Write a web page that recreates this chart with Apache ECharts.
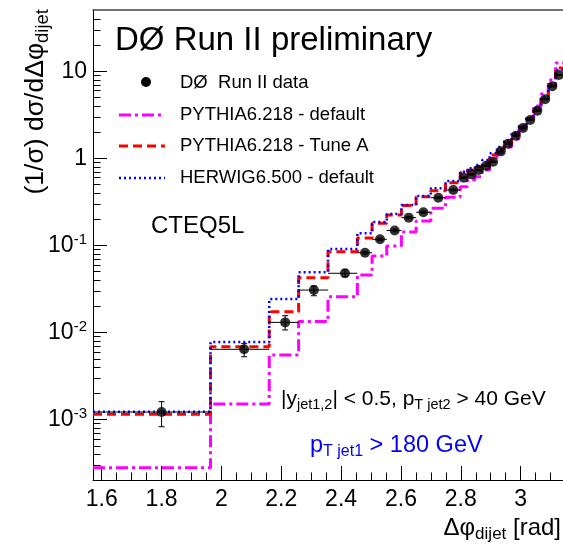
<!DOCTYPE html>
<html><head><meta charset="utf-8">
<script src="https://cdn.jsdelivr.net/npm/echarts@6/dist/echarts.min.js"></script>
<style>html,body{margin:0;padding:0;background:#fff}#c{width:563px;height:547px}</style>
</head><body><div id="c"></div>
<script>
// ---- data ----
const binEdges = [1.5708, 1.9635, 2.1598, 2.2580, 2.3562, 2.4544, 2.5035, 2.5525, 2.6016, 2.6507, 2.6998, 2.7489, 2.7980,
  2.8225, 2.8471, 2.8716, 2.8962, 2.9207, 2.9452, 2.9698, 2.9943, 3.0189, 3.0434, 3.0680, 3.0925, 3.1170, 3.1416];
const dataX = [1.800, 2.076, 2.213, 2.309, 2.413, 2.480, 2.530, 2.579, 2.626, 2.675, 2.725, 2.775,
  2.810, 2.836, 2.860, 2.885, 2.908, 2.934, 2.958, 2.984, 3.008, 3.032, 3.056, 3.082, 3.106, 3.128];
const dataY = [1.225e-3, 6.43e-3, 0.0131, 0.0308, 0.0480, 0.0826, 0.1178, 0.1486, 0.209, 0.241, 0.354, 0.434,
  0.600, 0.656, 0.736, 0.824, 0.916, 1.205, 1.475, 1.82, 2.23, 2.76, 3.53, 4.77, 6.73, 9.08];
const errLow = [0.395e-3, 1.15e-3, 0.00238, 0.0043, 0.0041, 0.003, 0.004, 0.005, 0.006, 0.007, 0.009, 0.010,
  0.012, 0.013, 0.014, 0.015, 0.016, 0.020, 0.024, 0.028, 0.033, 0.040, 0.050, 0.065, 0.090, 0.120];
const errHigh = [0.385e-3, 1.10e-3, 0.00253, 0.0035, 0.0044, 0.003, 0.004, 0.005, 0.006, 0.007, 0.009, 0.010,
  0.012, 0.013, 0.014, 0.015, 0.016, 0.020, 0.024, 0.028, 0.033, 0.040, 0.050, 0.065, 0.090, 0.120];
const pythiaDefault = [2.81e-4, 1.514e-3, 5.53e-3, 0.0134, 0.0258, 0.0458, 0.0757, 0.0986, 0.143, 0.191, 0.267, 0.357,
  0.473, 0.565, 0.617, 0.736, 0.959, 1.153, 1.352, 1.671, 2.18, 2.83, 4.00, 5.48, 7.94, 12.45];
const pythiaTuneA = [1.153e-3, 6.89e-3, 0.01738, 0.0427, 0.0849, 0.122, 0.180, 0.224, 0.288, 0.363, 0.426, 0.526,
  0.686, 0.736, 0.804, 0.893, 1.094, 1.282, 1.503, 1.857, 2.295, 2.83, 3.60, 4.81, 6.78, 10.9];
const herwig = [1.235e-3, 7.80e-3, 0.0243, 0.0492, 0.0912, 0.138, 0.186, 0.230, 0.292, 0.370, 0.454, 0.551,
  0.703, 0.769, 0.839, 0.959, 1.145, 1.352, 1.585, 1.958, 2.355, 2.91, 3.79, 5.07, 7.15, 10.35];
const xMajorTicks = [1.6, 1.8, 2.0, 2.2, 2.4, 2.6, 2.8, 3.0];
const xMinorTicks = [1.65, 1.7, 1.75, 1.85, 1.9, 1.95, 2.05, 2.1, 2.15, 2.25, 2.3, 2.35, 2.45, 2.5, 2.55,
  2.65, 2.7, 2.75, 2.85, 2.9, 2.95, 3.05, 3.1];
const yMajorTicks = [0.001, 0.01, 0.1, 1, 10];
const yMinorTicks = [3e-4, 4e-4, 5e-4, 6e-4, 7e-4, 8e-4, 9e-4, 2e-3, 3e-3, 4e-3, 5e-3, 6e-3, 7e-3, 8e-3, 9e-3,
  0.02, 0.03, 0.04, 0.05, 0.06, 0.07, 0.08, 0.09, 0.2, 0.3, 0.4, 0.5, 0.6, 0.7, 0.8, 0.9,
  2, 3, 4, 5, 6, 7, 8, 9, 20, 30, 40];
const legendLabels = ['DØ  Run II data', 'PYTHIA6.218 - default', 'PYTHIA6.218 - Tune A', 'HERWIG6.500 - default'];

// ---- chart ----
const FONT = 'Liberation Sans, Arial, Helvetica, sans-serif';
const X0 = Math.PI / 2, X1 = Math.PI;
const Y0 = 2.03e-4, Y1 = 50.6;
function hist(vals) {
  const d = vals.map((v, i) => [binEdges[i], v]);
  d.push([binEdges[binEdges.length - 1], vals[vals.length - 1]]);
  return d;
}
const PINK = '#ff00ff', RED = '#ff0000', BLUE = '#0000ff';
const dashPink = [12, 4, 3, 4], dashRed = [9, 5], dashBlue = [2, 3];

const chart = echarts.init(document.getElementById('c'), null, { renderer: 'canvas' });
const baseX = { type: 'value', min: X0, max: X1, splitLine: { show: false } };
const baseY = { type: 'log', logBase: 10, min: Y0, max: Y1, splitLine: { show: false } };
chart.setOption({
  animation: false,
  backgroundColor: '#fff',
  grid: { left: 93, right: 0, top: 10, bottom: 67 },
  xAxis: [
    Object.assign({}, baseX, {
      position: 'bottom',
      axisLine: { show: true, lineStyle: { color: '#000', width: 1 } },
      axisTick: { show: true, inside: true, length: 14, customValues: xMajorTicks, lineStyle: { color: '#000' } },
      axisLabel: { show: true, customValues: xMajorTicks, margin: 8, fontSize: 23, color: '#000', fontFamily: FONT,
        formatter: v => String(Math.round(v * 10) / 10) },
    }),
    Object.assign({}, baseX, {
      position: 'bottom',
      axisLine: { show: false },
      axisTick: { show: true, inside: true, length: 7.5, customValues: xMinorTicks, lineStyle: { color: '#000' } },
      axisLabel: { show: false },
    }),
    Object.assign({}, baseX, {
      position: 'top',
      axisLine: { show: true, lineStyle: { color: '#444', width: 1.5 } },
      axisTick: { show: false }, axisLabel: { show: false },
    }),
  ],
  yAxis: [
    Object.assign({}, baseY, {
      position: 'left',
      axisLine: { show: true, lineStyle: { color: '#000', width: 1 } },
      axisTick: { show: true, inside: true, length: 14, customValues: yMajorTicks, lineStyle: { color: '#000' } },
      axisLabel: { show: true, customValues: yMajorTicks, margin: 6, color: '#000', fontFamily: FONT,
        formatter: v => {
          const k = Math.round(Math.log10(v));
          if (k === 0) return '{b|1}';
          if (k === 1) return '{b|10}';
          return '{b|10}{s|' + k + '}';
        },
        rich: { b: { fontSize: 23, fontFamily: FONT, color: '#000' },
                s: { fontSize: 15, fontFamily: FONT, color: '#000', padding: [0, 0, 12, 0] } } },
    }),
    Object.assign({}, baseY, {
      position: 'left',
      axisLine: { show: false },
      axisTick: { show: true, inside: true, length: 7.5, customValues: yMinorTicks, lineStyle: { color: '#000' } },
      axisLabel: { show: false },
    }),
  ],
  series: [
    { type: 'line', name: legendLabels[1], step: 'end', symbol: 'none', data: hist(pythiaDefault),
      lineStyle: { color: PINK, width: 3, type: dashPink }, z: 2 },
    { type: 'line', name: legendLabels[2], step: 'end', symbol: 'none', data: hist(pythiaTuneA),
      lineStyle: { color: RED, width: 3, type: dashRed }, z: 3 },
    { type: 'line', name: legendLabels[3], step: 'end', symbol: 'none', data: hist(herwig),
      lineStyle: { color: BLUE, width: 2.5, type: dashBlue }, z: 4 },
    { type: 'custom', name: 'err', z: 5,
      data: dataX.map((x, i) => [x, dataY[i], dataY[i] - errLow[i], dataY[i] + errHigh[i], binEdges[i], binEdges[i + 1]]),
      encode: { x: 0, y: 1 },
      renderItem: (params, api) => {
        const c = api.coord([api.value(0), api.value(1)]);
        const lo = api.coord([api.value(0), api.value(2)]);
        const hi = api.coord([api.value(0), api.value(3)]);
        const l = api.coord([api.value(4), api.value(1)]);
        const r = api.coord([api.value(5), api.value(1)]);
        const st = { stroke: '#000', lineWidth: 1 };
        return { type: 'group', children: [
          { type: 'line', shape: { x1: l[0], y1: c[1], x2: r[0], y2: c[1] }, style: st },
          { type: 'line', shape: { x1: c[0], y1: lo[1], x2: c[0], y2: hi[1] }, style: st },
          { type: 'line', shape: { x1: c[0] - 3, y1: lo[1], x2: c[0] + 3, y2: lo[1] }, style: st },
          { type: 'line', shape: { x1: c[0] - 3, y1: hi[1], x2: c[0] + 3, y2: hi[1] }, style: st },
        ] };
      } },
    { type: 'scatter', name: legendLabels[0], symbol: 'circle', symbolSize: 10, z: 6,
      data: dataX.map((x, i) => [x, dataY[i]]), itemStyle: { color: '#000' } },
  ],
  graphic: [
    { type: 'text', x: 115, y: 41, z: 10, style: { text: 'DØ Run II preliminary', fontSize: 33, fontFamily: FONT,
      fill: '#000', textAlign: 'left', textVerticalAlign: 'middle' } },
    // legend
    { type: 'circle', shape: { cx: 146, cy: 82, r: 5 }, style: { fill: '#000' }, z: 10 },
    { type: 'line', shape: { x1: 119, y1: 115, x2: 165, y2: 115 }, style: { stroke: PINK, lineWidth: 3, lineDash: dashPink }, z: 10 },
    { type: 'line', shape: { x1: 119, y1: 146, x2: 165, y2: 146 }, style: { stroke: RED, lineWidth: 3, lineDash: dashRed }, z: 10 },
    { type: 'line', shape: { x1: 119, y1: 178, x2: 165, y2: 178 }, style: { stroke: BLUE, lineWidth: 2.5, lineDash: dashBlue }, z: 10 },
    { type: 'text', x: 180, y: 83, z: 10, style: { text: legendLabels[0], fontSize: 18.5, fontFamily: FONT, fill: '#000', textVerticalAlign: 'middle' } },
    { type: 'text', x: 180, y: 115, z: 10, style: { text: legendLabels[1], fontSize: 18.5, fontFamily: FONT, fill: '#000', textVerticalAlign: 'middle' } },
    { type: 'text', x: 180, y: 146, z: 10, style: { text: legendLabels[2], fontSize: 18.5, fontFamily: FONT, fill: '#000', textVerticalAlign: 'middle' } },
    { type: 'text', x: 180, y: 178, z: 10, style: { text: legendLabels[3], fontSize: 18.5, fontFamily: FONT, fill: '#000', textVerticalAlign: 'middle' } },
    { type: 'text', x: 151, y: 226, z: 10, style: { text: 'CTEQ5L', fontSize: 24, fontFamily: FONT, fill: '#000', textVerticalAlign: 'middle' } },
    { type: 'text', x: 281, y: 399, z: 10, style: {
      text: '{m||y}{s|jet1,2}{m|| < 0.5, p}{s|T jet2}{m| > 40 GeV}', textVerticalAlign: 'middle',
      rich: { m: { fontSize: 21, fontFamily: FONT, fill: '#000', color: '#000' },
              s: { fontSize: 14.5, fontFamily: FONT, fill: '#000', color: '#000', padding: [11, 0, 0, 0] } } } },
    { type: 'text', x: 310, y: 446, z: 10, style: {
      text: '{m|p}{s|T jet1}{m| > 180 GeV}', textVerticalAlign: 'middle',
      rich: { m: { fontSize: 23.5, fontFamily: FONT, fill: BLUE, color: BLUE },
              s: { fontSize: 16, fontFamily: FONT, fill: BLUE, color: BLUE, padding: [12, 0, 0, 0] } } } },
    // x axis title
    { type: 'text', x: 561, y: 528, z: 10, style: {
      text: '{m|Δφ}{s|dijet}{m| [rad]}', textAlign: 'right', textVerticalAlign: 'middle',
      rich: { m: { fontSize: 24, fontFamily: FONT, fill: '#000', color: '#000' },
              s: { fontSize: 17, fontFamily: FONT, fill: '#000', color: '#000', padding: [12, 0, 0, 0] } } } },
    // y axis title
    { type: 'text', x: 36, y: 9, rotation: Math.PI / 2, z: 10, style: {
      text: '{m|(1/σ) dσ/dΔφ}{s|dijet}', textAlign: 'right', textVerticalAlign: 'middle',
      rich: { m: { fontSize: 26.5, fontFamily: FONT, fill: '#000', color: '#000' },
              s: { fontSize: 18.5, fontFamily: FONT, fill: '#000', color: '#000', padding: [13, 0, 0, 0] } } } },
  ],
});
</script>
</body></html>
